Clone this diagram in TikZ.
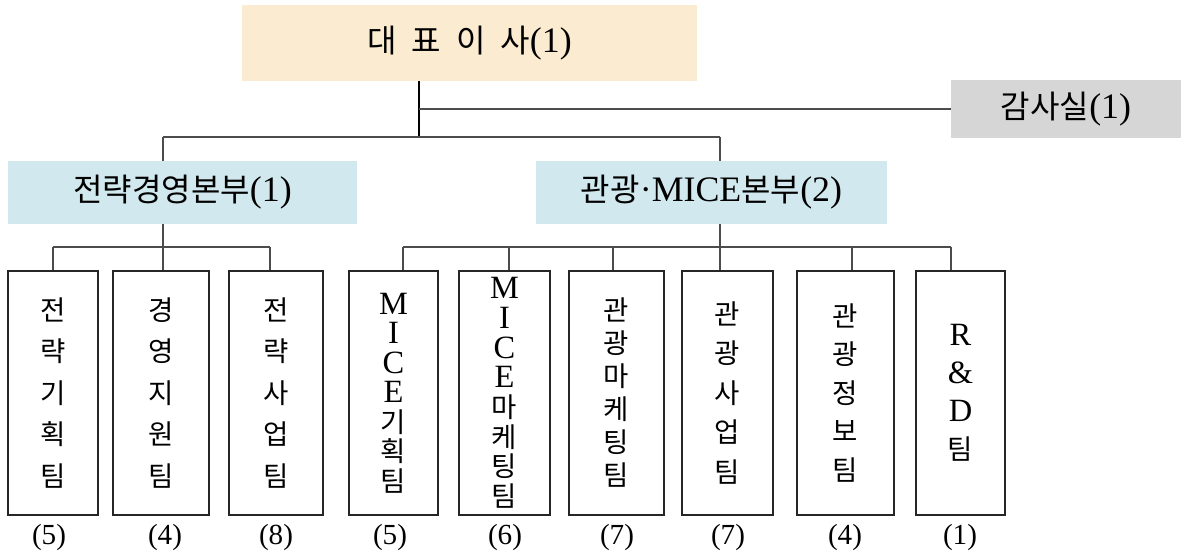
\documentclass[tikz,border=0pt]{standalone}
\usepackage{fontspec}
\setmainfont{Liberation Serif}[Scale=1.12]
\newfontfamily\kr{Noto Sans CJK KR}
\usetikzlibrary{positioning}

\definecolor{ceofill}{HTML}{FBEBD1}
\definecolor{divfill}{HTML}{D1E9EE}
\definecolor{auditfill}{HTML}{D6D6D6}

% latin letters inside the team boxes
\newcommand\lt[1]{{\rmfamily\fontsize{29}{29}\selectfont #1}}

\begin{document}
\begin{tikzpicture}[x=1pt, y=-1pt,
		head/.style = {rectangle, inner sep = 0, font = \fontsize{32}{38}\selectfont},
		team/.style = {rectangle, draw = black!85, line width = 1.3pt, inner sep = 0,
			minimum height = 244, align = center, font = \kr\fontsize{27.5}{#1}\selectfont},
		count/.style = {inner sep = 0, font = \fontsize{26}{30}\selectfont},
		link/.style = {draw = black!70, line width = 1.2pt},
		trunk/.style = {draw = black, line width = 2pt}]
	\useasboundingbox (0,0) rectangle (1185,556);

	% top level
	\node[head, fill = ceofill, minimum width = 455, minimum height = 76] (ceo) at (469.5,43)
		{{\kr 대}\hspace{15pt}{\kr 표}\hspace{15pt}{\kr 이}\hspace{15pt}{\kr 사}(1)};
	\node[head, fill = auditfill, minimum width = 230, minimum height = 58] (audit) at (1066,109)
		{{\kr 감사실}(1)};

	% divisions
	\node[head, fill = divfill, minimum width = 349, minimum height = 63] (div1) at (182.5,192.5)
		{{\kr 전략경영본부}(1)};
	\node[head, fill = divfill, minimum width = 351, minimum height = 63] (div2) at (711.5,192.5)
		{{\kr 관광}·MICE{\kr 본부}(2)};

	% teams
	\node[team = 41.5, minimum width = 90] (t1) at (53,393) {전\\략\\기\\획\\팀};
	\node[team = 41.5, minimum width = 96] (t2) at (161,393) {경\\영\\지\\원\\팀};
	\node[team = 41.5, minimum width = 94] (t3) at (276,393) {전\\략\\사\\업\\팀};
	\node[team = 29.5, minimum width = 89] (t4) at (393.5,393)
		{\lt{M}\\\lt{I}\\\lt{C}\\\lt{E}\\기\\획\\팀};
	\node[team = 29.7, minimum width = 91] (t5) at (504.5,393)
		{\lt{M}\\\lt{I}\\\lt{C}\\\lt{E}\\마\\케\\팅\\팀};
	\node[team = 33, minimum width = 95] (t6) at (616.5,393) {관\\광\\마\\케\\팅\\팀};
	\node[team = 39.5, minimum width = 91] (t7) at (727.5,393) {관\\광\\사\\업\\팀};
	\node[team = 38.5, minimum width = 97] (t8) at (845.5,393) {관\\광\\정\\보\\팀};
	\node[team = 38, minimum width = 89] (t9) at (960.5,393)
		{\lt{R}\\\lt{\&}\\\lt{D}\\팀};

	% head counts
	\foreach \n/\x/\c in {1/49/5, 2/165/4, 3/276/8, 4/390/5, 5/505/6, 6/617/7, 7/728/7, 8/845/4, 9/960/1}
		\node[count] (n\n) at (\x,537) {(\c)};

	% connectors
	\coordinate (top) at (419,137);
	\coordinate (j1) at (163,137);
	\coordinate (j2) at (720,137);
	\draw[trunk] (ceo.south -| top) -- (top);
	\draw[link] (audit.west -| top) -- (audit.west);
	\draw[link] (j1) -- (j2);
	\draw[link] (j1) -- (div1.north -| j1);
	\draw[link] (j2) -- (div2.north -| j2);

	\foreach \n/\x in {1/53, 2/163, 3/270, 4/403, 5/509, 6/613, 7/720, 8/852, 9/951} {
		\coordinate (b\n) at (\x,247);
		\draw[link] (b\n) -- (b\n |- t\n.north);
	}
	\draw[link] (b1) -- (b3);
	\draw[link] (b4) -- (b9);
	\draw[link] (div1.south -| b2) -- (b2);
	\draw[link] (div2.south -| b7) -- (b7);
\end{tikzpicture}
\end{document}
